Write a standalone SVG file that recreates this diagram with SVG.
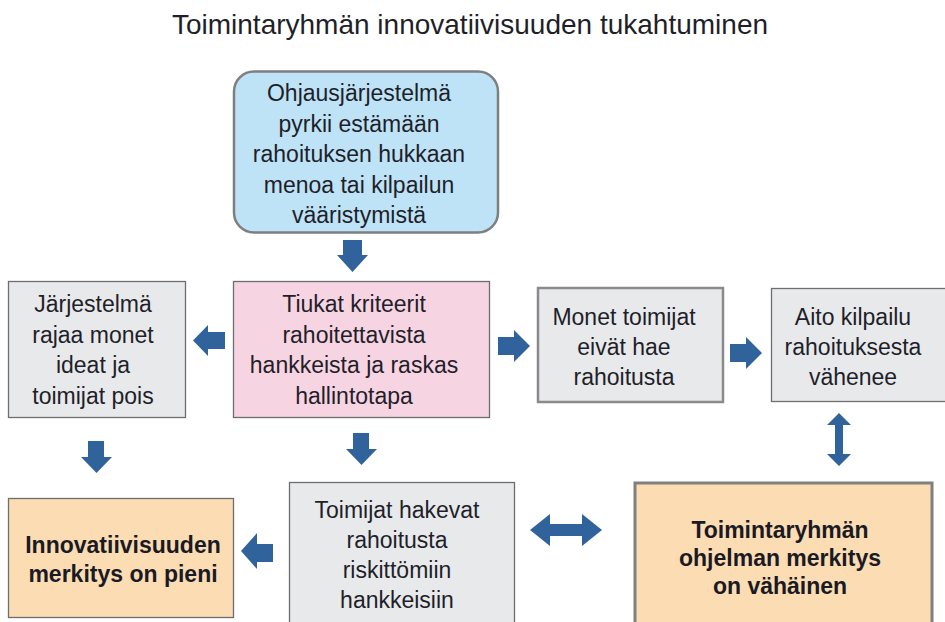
<svg xmlns="http://www.w3.org/2000/svg" width="945" height="622" viewBox="0 0 945 622">
<style>
.t{font-family:"Liberation Sans",Arial,sans-serif;font-size:23px;fill:#1f1f2a;text-anchor:middle}
.b{font-family:"Liberation Sans",Arial,sans-serif;font-size:23px;font-weight:bold;fill:#1a1a24;text-anchor:middle}
.title{font-family:"Liberation Sans",Arial,sans-serif;font-size:28px;fill:#1f1f2a;text-anchor:middle}
.gray{fill:#e8e9eb;stroke:#6d6e71;stroke-width:1.3}
.pink{fill:#f7d4e2;stroke:#6d6e71;stroke-width:1.3}
.orange{fill:#fcdcb3;stroke:#6d6e71;stroke-width:1.3}
.arrow{fill:#30639c}
</style>
<rect width="945" height="622" fill="#ffffff"/>
<text class="title" x="470" y="34">Toimintaryhmän innovatiivisuuden tukahtuminen</text>

<g id="ohjaus">
<rect x="234" y="71.5" width="264" height="161" rx="20" fill="#bee3f6" stroke="#7f7f7f" stroke-width="2.5"/>
<text class="t" x="359" y="101">Ohjausjärjestelmä</text>
<text class="t" x="359" y="131.5">pyrkii estämään</text>
<text class="t" x="359" y="162">rahoituksen hukkaan</text>
<text class="t" x="359" y="192.5">menoa tai kilpailun</text>
<text class="t" x="359" y="223">vääristymistä</text>
</g>

<g id="rajaa">
<rect class="gray" x="8.5" y="281.5" width="177" height="136"/>
<text class="t" x="93" y="312">Järjestelmä</text>
<text class="t" x="93" y="342.5">rajaa monet</text>
<text class="t" x="93" y="373">ideat ja</text>
<text class="t" x="93" y="403.5">toimijat pois</text>
</g>

<g id="kriteerit">
<rect class="pink" x="233.5" y="281.5" width="256" height="136"/>
<text class="t" x="354" y="312">Tiukat kriteerit</text>
<text class="t" x="354" y="342.5">rahoitettavista</text>
<text class="t" x="354" y="373">hankkeista ja raskas</text>
<text class="t" x="354" y="403.5">hallintotapa</text>
</g>

<g id="monet">
<rect x="538" y="288" width="185" height="114" fill="#e8e9eb" stroke="#8a8a8a" stroke-width="2.5"/>
<text class="t" x="624" y="325">Monet toimijat</text>
<text class="t" x="624" y="355">eivät hae</text>
<text class="t" x="624" y="385">rahoitusta</text>
</g>

<g id="aito">
<rect class="gray" x="771.5" y="288.5" width="180" height="113"/>
<text class="t" x="853" y="325">Aito kilpailu</text>
<text class="t" x="853" y="355">rahoituksesta</text>
<text class="t" x="853" y="385">vähenee</text>
</g>

<g id="innovatiivisuus">
<rect class="orange" x="8.5" y="498.5" width="225" height="119"/>
<text class="b" x="123" y="553">Innovatiivisuuden</text>
<text class="b" x="123" y="582">merkitys on pieni</text>
</g>

<g id="hakevat">
<rect class="gray" x="289.5" y="482.5" width="225" height="150"/>
<text class="t" x="397" y="518">Toimijat hakevat</text>
<text class="t" x="397" y="548">rahoitusta</text>
<text class="t" x="397" y="578">riskittömiin</text>
<text class="t" x="397" y="608">hankkeisiin</text>
</g>

<g id="ohjelma">
<rect x="635" y="483" width="297" height="150" fill="#fcdcb3" stroke="#808080" stroke-width="3"/>
<text class="b" x="780" y="538">Toimintaryhmän</text>
<text class="b" x="780" y="566">ohjelman merkitys</text>
<text class="b" x="780" y="594">on vähäinen</text>
</g>

<g id="connectors">
<path class="arrow" d="M343,240 H362 V255 H368 L352.5,272 L337,255 H343 Z"/>
<path class="arrow" d="M225,332 V349 H208 V356 L193,340.5 L208,325 V332 Z"/>
<path class="arrow" d="M498,337 H514 V330 L530,346 L514,362 V355 H498 Z"/>
<path class="arrow" d="M730,344 H746 V337 L762,353 L746,369 V362 H730 Z"/>
<path class="arrow" d="M88,441 H104 V457 H112 L96.5,473 L81,457 H88 Z"/>
<path class="arrow" d="M353,433 H369 V449 H377 L361.5,465 L346,449 H353 Z"/>
<path class="arrow" d="M839,413 L851,425 H843 V454 H851 L839,466 L827,454 H835 V425 H827 Z"/>
<path class="arrow" d="M530,530 L550,514 V524 H582 V514 L602,530 L582,546 V536 H550 V546 Z"/>
<path class="arrow" d="M273,544 V562 H257 V569 L241,551 L257,533 V544 Z"/>
</g>
</svg>
